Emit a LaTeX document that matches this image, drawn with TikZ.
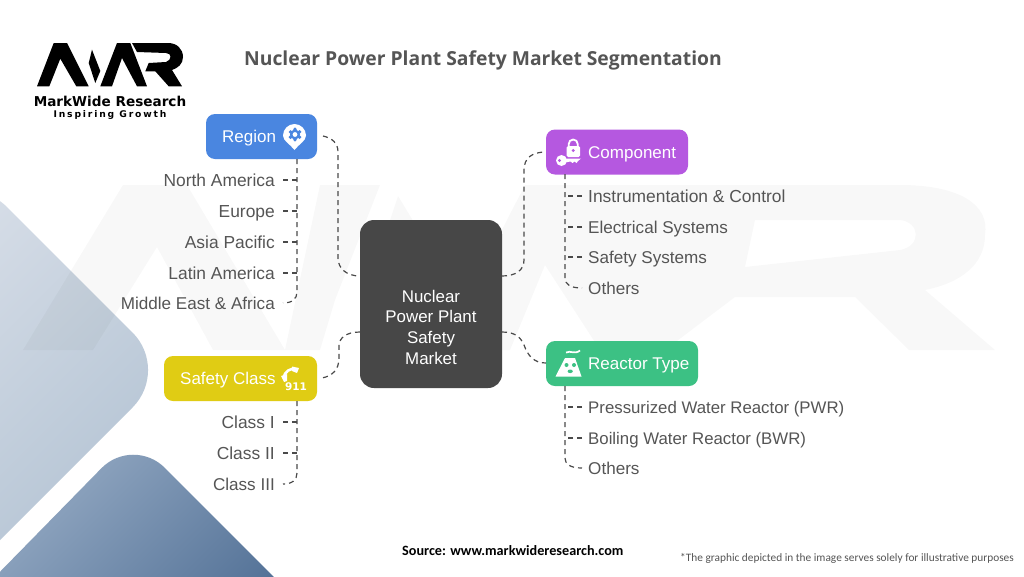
\documentclass[tikz,border=0pt]{standalone}
\usepackage{fontspec}
\setmainfont{Liberation Sans}
\newfontfamily\titlefont{Open Sans}
\newfontfamily\notefont{Carlito}
\newfontfamily\logofont{DejaVu Sans}
\definecolor{txt}{HTML}{555555}
\definecolor{conn}{HTML}{4A4A4A}
\definecolor{core}{HTML}{474747}
\definecolor{cblue}{HTML}{4A86E0}
\definecolor{cpurple}{HTML}{B558E0}
\definecolor{cyellow}{HTML}{E0CC14}
\definecolor{cgreen}{HTML}{3CC184}
\definecolor{lightA}{HTML}{D6DDE7}
\definecolor{lightB}{HTML}{AFC0D1}
\definecolor{darkA}{HTML}{9DB1C9}
\definecolor{darkB}{HTML}{4F6E94}
\tikzset{
  linkline/.style={draw=conn,line width=1.2pt,dash pattern=on 5pt off 4pt},
  box/.style={rounded corners=9pt,inner sep=0pt,minimum height=45pt},
  boxtext/.style={inner sep=0pt,text=white,font=\fontsize{17}{20}\selectfont,text height=12.5pt,text depth=0pt},
  itemL/.style={inner sep=0pt,anchor=east,text=txt,font=\fontsize{17.4}{20}\selectfont,text height=12.5pt,text depth=0pt},
  itemR/.style={itemL,anchor=west},
  narrow/.style={font=\fontsize{16.8}{20}\selectfont},
  tight/.style={font=\fontsize{17.1}{20}\selectfont},
  wmark/.style={fill=black,opacity=.028},
}
\begin{document}
\begin{tikzpicture}[x=1pt,y=-1pt]
\useasboundingbox (0,0) rectangle (1024,576);
\fill[white] (0,0) rectangle (1024,576);
\begin{scope}
\clip (0,0) rectangle (1024,576);
\shade[left color=lightA,right color=lightB,shading angle=45,rounded corners=53pt]
  (-30,170) -- (170,370) -- (-90,630) -- cycle;
\shade[left color=darkA,right color=darkB,shading angle=45,rounded corners=45pt]
  (133,436) -- (330,633) -- (-60,633) -- cycle;
% watermark
\fill[wmark] (23,350) -- (123,185) -- (187,185) -- (285,350) -- (213,350) -- (157,247) -- (93,350) -- cycle;
\fill[wmark] (285,350) -- (320,185) -- (380,185) -- (335,300) -- (320,350) -- cycle;
\fill[wmark] (398,196) -- (440,265) -- (410,330) -- (375,265) -- cycle;
\fill[wmark,even odd rule] (440,350) -- (525,185) -- (900,185) .. controls (960,185) and (990,205) .. (985,235)
  .. controls (985,265) and (960,283) .. (925,290) -- (995,350) -- (909,350) -- (855,297) -- (735,297) -- (665,350) -- (600,350) -- (545,265) -- (510,350) -- cycle
  (755,220) -- (900,220) .. controls (920,222) and (922,246) .. (900,250) -- (745,267) -- cycle;
\end{scope}
% logo
\fill[black] (37,86.3) -- (53.7,43) -- (67,43) -- (88.7,86.3) -- (76.3,86.3) -- (60.3,58.7) -- (49.3,86.3) -- cycle;
\fill[black] (92,49.7) -- (100.3,71) -- (95.3,83) -- (88.7,63) -- cycle;
\fill[black] (100.3,86.3) -- (117,43) -- (130.3,43) -- (147,86.3) -- (137,86.3) -- (122,58) -- (112,86.3) -- cycle;
\fill[black] (132,43) -- (168,43) .. controls (177,43) and (183,49) .. (183,57) .. controls (183,64) and (178,68) .. (172,70)
  -- (182,86.3) -- (168.7,86.3) -- (155.3,71.3) -- (145.3,71.3) -- (148.7,63) -- (166,62) .. controls (172,60) and (172,53) .. (166,53) -- (137,52) -- cycle;
\node[inner sep=0pt,font=\logofont\bfseries\fontsize{13.6}{14}\selectfont,text=black] (brand) at (110,101.5) {MarkWide Research};
\node[inner sep=0pt,font=\logofont\bfseries\fontsize{9.2}{11}\selectfont,text=black] (tag) at (110,114.5) {\addfontfeature{LetterSpace=20}Inspiring Growth};
% title
\node[inner sep=0pt,anchor=west,text=txt,font=\titlefont\bfseries\fontsize{19.3}{24}\selectfont] (title) at (244,60) {Nuclear Power Plant Safety Market Segmentation};
% boxes
\node[fill=core,rounded corners=14pt,inner sep=0pt,minimum width=142pt,minimum height=168pt] (hub) at (431,304) {};
\node[inner sep=0pt,align=center,text=white,font=\fontsize{16.9}{20.7}\selectfont] (hubtext) at (431,327.2) {Nuclear\\Power Plant\\Safety\\Market};
\node[box,fill=cblue,minimum width=111pt] (region) at (261.5,136.5) {};
\node[box,fill=cpurple,minimum width=142pt] (component) at (617,152) {};
\node[box,fill=cyellow,minimum width=153pt] (safety) at (240.5,378.5) {};
\node[box,fill=cgreen,minimum width=152pt] (reactor) at (622,363.5) {};
\node[boxtext,anchor=west] at (222,136) {Region};
\node[boxtext,anchor=west] at (588,152) {Component};
\node[boxtext,anchor=west] at (180,378) {Safety Class};
\node[boxtext,anchor=west] at (588,363) {Reactor Type};
% icons
\fill[white] (294.5,150) .. controls (290,144) and (283,141) .. (283,135.5) arc[start angle=180,end angle=360,radius=11.5] .. controls (306,141) and (299,144) .. (294.5,150) -- cycle;
\fill[cblue] (295,134.5) circle[radius=5];
\foreach \a in {30,90,...,330}{\fill[cblue] (295,134.5) ++(\a:5.2) circle[radius=1.9];}
\fill[white] (295,134.5) circle[radius=2.4];
\draw[white,line width=1.8pt] (568.7,146) -- (568.7,144) arc[start angle=180,end angle=360,radius=4.5] -- (577.7,146);
\fill[white,rounded corners=1.5pt] (566.5,146) rectangle (580,157);
\fill[cpurple] (573.2,150.5) circle[radius=1.7];
\fill[white] (561.5,160.5) circle[radius=5.5];
\fill[cpurple] (559.5,160.5) circle[radius=1.6];
\fill[white] (565,158.5) -- (581,158.5) -- (578,161) -- (576.5,163) -- (574.5,161.5) -- (572.5,163) -- (570.5,161.5) -- (565,162.5) -- cycle;
\draw[white,line width=2.6pt,line cap=round] (283.5,378) .. controls (284,372) and (291,367) .. (296,369.5);
\fill[white] (281,376) -- (287,374) -- (287,381) -- (284,382) -- cycle;
\fill[white] (292,366.5) -- (299,368) -- (297,373) -- (292,371) -- cycle;
\node[inner sep=0pt,text=white,font=\logofont\bfseries\fontsize{10.5}{12}\selectfont] (nine) at (296,387) {911};
\fill[white] (565,358) -- (575,358) -- (581.5,376.5) -- (555.5,376.5) -- cycle;
\draw[white,line width=1.7pt] (566,352.5) .. controls (571,350) and (574,355) .. (580,350.5);
\fill[cgreen] (566.5,365) circle[radius=2];
\fill[cgreen] (574,365) circle[radius=2];
\fill[cgreen] (570.2,371.3) ellipse[x radius=2.6,y radius=1.8];
% items
\node[itemL] (na) at (275,180) {North America};
\node[itemL] (eu) at (275,211) {Europe};
\node[itemL] (ap) at (275,242) {Asia Pacific};
\node[itemL] (la) at (275,273) {Latin America};
\node[itemL,tight] (me) at (275,303) {Middle East \& Africa};
\node[itemL] (c1) at (275,422) {Class I};
\node[itemL] (c2) at (275,453) {Class II};
\node[itemL,tight] (c3) at (275,484) {Class III};
\node[itemR] (ic) at (588,196) {Instrumentation \& Control};
\node[itemR,tight] (es) at (588,227) {Electrical Systems};
\node[itemR,tight] (ss) at (588,257) {Safety Systems};
\node[itemR,tight] (ot) at (588,288) {Others};
\node[itemR,narrow] (pw) at (588,407) {Pressurized Water Reactor (PWR)};
\node[itemR,narrow] (bw) at (588,438) {Boiling Water Reactor (BWR)};
\node[itemR,tight] (o2) at (588,468) {Others};
% connectors hub-box
\coordinate (hubNW) at (360,276);
\coordinate (hubNE) at (502,276);
\coordinate (hubSW) at (360,332);
\coordinate (hubSE) at (502,332);
\coordinate (regOut) at (323,136);
\coordinate (safOut) at (322,378);
\coordinate (comIn) at (546,152);
\coordinate (reaIn) at (546,363);
\draw[linkline] (regOut) .. controls (332,138) and (338,143) .. (338,152) -- (338,258) .. controls (338,268) and (346,276) .. (hubNW);
\draw[linkline] (hubNE) .. controls (516,276) and (524,270) .. (524,260) -- (524,170) .. controls (524,158) and (532,152) .. (comIn);
\draw[linkline] (hubSW) .. controls (346,332) and (339,338) .. (339,346) -- (339,358) .. controls (339,370) and (332,376) .. (safOut);
\draw[linkline] (hubSE) .. controls (516,332) and (521,338) .. (524,345) .. controls (528,356) and (534,363) .. (reaIn);
% trunks
\coordinate (tA) at (297,159);
\coordinate (tB) at (565,174);
\coordinate (tC) at (297,401);
\coordinate (tD) at (565,386);
\draw[linkline] (tA) -- (297,292) .. controls (297,299) and (292,303) .. ([xshift=8pt]me.east);
\draw[linkline] (tB) -- (565,278) .. controls (565,284) and (570,288) .. ([xshift=-6pt]ot.west);
\draw[linkline] (tC) -- (297,473) .. controls (297,480) and (292,484) .. ([xshift=8pt]c3.east);
\draw[linkline] (tD) -- (565,458) .. controls (565,464) and (570,468) .. ([xshift=-6pt]o2.west);
\foreach \n in {na,eu,ap,la,c1,c2}{\draw[linkline] ([xshift=8pt]\n.east) -- (\n.east -| tA);}
\foreach \n in {ic,es,ss,pw,bw}{\draw[linkline] ([xshift=-6pt]\n.west) -- (\n.west -| tB);}
% footer
\node[inner sep=0pt,anchor=west,text=black,font=\notefont\bfseries\fontsize{14.2}{16}\selectfont] (src) at (402,551) {Source: www.markwideresearch.com};
\node[inner sep=0pt,anchor=west,text=txt,font=\notefont\fontsize{11.35}{15}\selectfont] (note) at (680,558) {*The graphic depicted in the image serves solely for illustrative purposes};
\end{tikzpicture}
\end{document}
